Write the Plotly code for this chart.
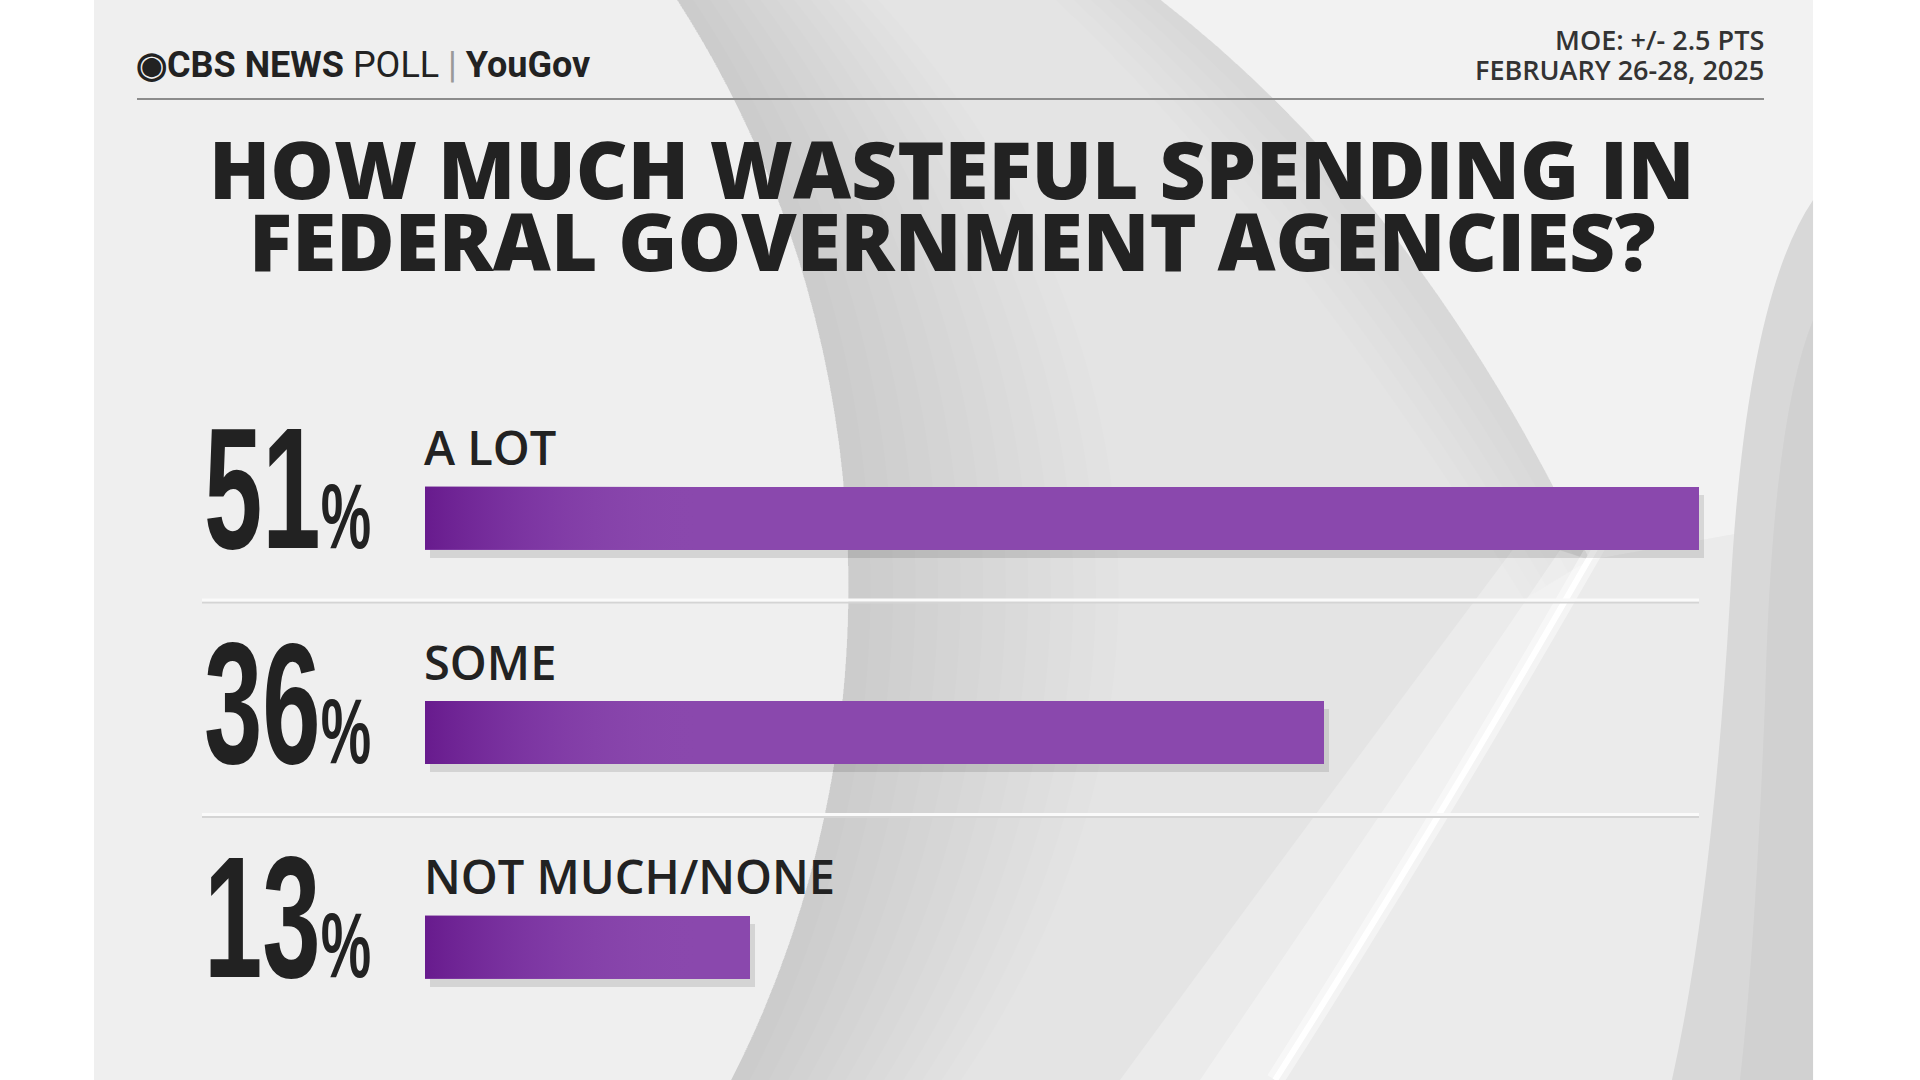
import plotly.graph_objects as go

# poll data
categories = ["A LOT", "SOME", "NOT MUCH/NONE"]
values = [51, 36, 13]
value_labels = ["51", "36", "13"]

title_lines = ["HOW MUCH WASTEFUL SPENDING IN", "FEDERAL GOVERNMENT AGENCIES?"]
moe_text = "MOE: +/- 2.5 PTS"
date_text = "FEBRUARY 26-28, 2025"

W, H = 1920, 1080
PURPLE = "#8a48ad"
INK = "#222222"
BAR_W = 0.294
GRAD_LEN = 11  # how far (in %) the dark left end of each bar fades out

positions = list(range(len(categories)))


def px(x):
    return x / W


def py(y):
    return 1 - y / H


def path(points, close=True):
    # points: ("M"|"L"|"Q"|"C", (x, y), ...) in pixel coords -> svg path in paper coords
    out = []
    for cmd, *pts in points:
        out.append(cmd + " ".join(f"{px(x):.4f},{py(y):.4f}" for x, y in pts))
    return " ".join(out) + (" Z" if close else "")


def bg(points, color):
    return dict(type="path", xref="paper", yref="paper", layer="below",
                path=path(points), fillcolor=color, line=dict(width=0))


fig = go.Figure()

# soft shadow under each bar (same data, axes nudged down/right)
fig.add_trace(go.Bar(
    x=values, y=positions, orientation="h", width=BAR_W,
    marker=dict(color="rgba(0,0,0,0.11)", line=dict(width=0)),
    xaxis="x", yaxis="y", hoverinfo="skip", showlegend=False,
))
fig.add_trace(go.Bar(
    x=values, y=positions, orientation="h", width=BAR_W,
    marker=dict(color=PURPLE, line=dict(width=0)),
    xaxis="x2", yaxis="y2", hoverinfo="skip", showlegend=False,
))
# darker left end of every bar
for p, v in zip(positions, values):
    end = min(v, GRAD_LEN)
    lo, hi = p - BAR_W / 2, p + BAR_W / 2
    fig.add_trace(go.Scatter(
        x=[0, end, end, 0, 0], y=[lo, lo, hi, hi, lo], mode="lines", fill="toself",
        line=dict(width=0, color="rgba(0,0,0,0)"),
        fillgradient=dict(type="horizontal",
                          colorscale=[[0, "rgba(100,22,138,0.9)"], [0.45, "rgba(115,40,155,0.45)"],
                                      [1, "rgba(138,72,173,0)"]]),
        xaxis="x2", yaxis="y2", hoverinfo="skip", showlegend=False,
    ))

# left edge of the big eye swoosh
edge = [("M", (677, 0)), ("C", (890, 330), (900, 750), (731, 1080))]
shapes = [
    # grey panel
    dict(type="rect", xref="paper", yref="paper", x0=px(94), x1=px(1813), y0=0, y1=1,
         fillcolor="#ececec", line=dict(width=0), layer="below"),
    # left part of the panel
    bg(edge + [("L", (94, 1080)), ("L", (94, 0))], "#efefef"),
    # inside of the swoosh
    bg(edge + [("L", (1275, 1080)), ("Q", (1440, 820), (1590, 560)),
               ("Q", (1420, 200), (1161, 0))], "#e4e4e4"),
]
# soft shading just inside the left edge (stacked thin layers fake a gradient)
for k in range(1, 13):
    shift = 24 * k
    shapes.append(bg(edge + [("L", (731 + shift * 0.8, 1080)),
                             ("C", (900 + shift, 750), (890 + shift, 330), (677 + shift * 0.7, 0))],
                     "rgba(0,0,0,0.006)"))
# soft shade along the right edge of the swoosh
for k in range(1, 7):
    shift = 22 * k
    shapes.append(bg([("M", (1161, 0)), ("Q", (1420, 200), (1590, 560)), ("L", (1590 - shift * 0.5, 560 + shift * 0.3)),
                      ("Q", (1420 - shift, 220), (1161 - shift * 0.8, 0))], "rgba(0,0,0,0.008)"))
shapes += [
    # lighter near the highlight arc
    bg([("M", (1120, 1080)), ("Q", (1340, 780), (1520, 540)), ("Q", (1560, 550), (1590, 560)),
        ("Q", (1440, 820), (1275, 1080))], "rgba(255,255,255,0.25)"),
    bg([("M", (1200, 1080)), ("Q", (1390, 800), (1560, 550)), ("Q", (1575, 555), (1590, 560)),
        ("Q", (1440, 820), (1275, 1080))], "rgba(255,255,255,0.3)"),
    # top right, lighter
    bg([("M", (1161, 0)), ("Q", (1420, 200), (1590, 560)), ("L", (1813, 520)), ("L", (1813, 0))],
       "#f2f2f2"),
    # bottom right
    bg([("M", (1275, 1080)), ("Q", (1440, 820), (1590, 560)), ("L", (1813, 520)), ("L", (1813, 1080))],
       "#ebebeb"),
    # darker band on the right edge
    bg([("M", (1813, 200)), ("Q", (1745, 300), (1730, 600)), ("Q", (1712, 900), (1672, 1080)),
        ("L", (1813, 1080))], "#d8d8d8"),
    bg([("M", (1813, 320)), ("Q", (1772, 420), (1765, 700)), ("Q", (1755, 950), (1740, 1080)),
        ("L", (1813, 1080))], "rgba(0,0,0,0.03)"),
    # white highlight arc
    dict(type="path", xref="paper", yref="paper", layer="below",
         path=path([("M", (1600, 540)), ("Q", (1440, 820), (1275, 1080))], close=False),
         line=dict(color="rgba(255,255,255,0.45)", width=18)),
    dict(type="path", xref="paper", yref="paper", layer="below",
         path=path([("M", (1600, 540)), ("Q", (1440, 820), (1275, 1080))], close=False),
         line=dict(color="#ffffff", width=6)),
    # header rule
    dict(type="line", xref="paper", yref="paper", x0=px(137), x1=px(1764),
         y0=py(99), y1=py(99), line=dict(color="#8c8c8c", width=2)),
]

# separators between the rows
for p in positions[:-1]:
    gap = p + 0.382
    shapes.append(dict(type="line", xref="paper", yref="y2", x0=px(202), x1=px(1699),
                       y0=gap + 0.012, y1=gap + 0.012, line=dict(color="#d4d4d4", width=2)))
    shapes.append(dict(type="line", xref="paper", yref="y2", x0=px(202), x1=px(1699),
                       y0=gap, y1=gap, line=dict(color="#fafafa", width=3)))

annotations = [
    # logo
    dict(xref="paper", yref="paper", x=px(134), y=py(65), xanchor="left", yanchor="middle",
         text="<b>◉CBS NEWS</b> POLL <span style='color:#999'>|</span> <b>YouGov</b>",
         showarrow=False, font=dict(family="Roboto, Liberation Sans, sans-serif", size=36, color=INK)),
    # moe / dates
    dict(xref="paper", yref="paper", x=px(1766), y=py(40), xanchor="right", yanchor="middle",
         text=moe_text, showarrow=False,
         font=dict(family="Open Sans, sans-serif", size=27, color="#333333", weight=600)),
    dict(xref="paper", yref="paper", x=px(1766), y=py(70), xanchor="right", yanchor="middle",
         text=date_text, showarrow=False,
         font=dict(family="Open Sans, sans-serif", size=27, color="#333333", weight=600)),
]
# title
for line, y in zip(title_lines, [167, 239]):
    annotations.append(dict(xref="paper", yref="paper", x=px(952), y=py(y), xanchor="center", yanchor="middle",
                            text=line, showarrow=False,
                            font=dict(family="Open Sans, sans-serif", size=80, color=INK, weight=800)))

for p, cat, val in zip(positions, categories, value_labels):
    # category label above its bar
    annotations.append(dict(xref="x2", yref="y2", x=0, y=p, xanchor="left", yanchor="middle",
                            yshift=71, xshift=-3, text=cat, showarrow=False,
                            font=dict(family="Open Sans, sans-serif", size=47, color=INK, weight=600)))
    # big percentage number
    annotations.append(dict(xref="paper", yref="y2", x=px(202), y=p, xanchor="left", yanchor="middle",
                            yshift=30, showarrow=False,
                            text=val + "<span style='font-size:93px'>%</span>",
                            font=dict(family="Liberation Sans, Arial, sans-serif",
                                      size=172, color=INK, weight=700)))

top, bottom = 410.75, 1054.25  # pixel rows of the category band
fig.update_layout(
    width=W, height=H,
    margin=dict(l=0, r=0, t=0, b=0),
    paper_bgcolor="#ffffff",
    plot_bgcolor="rgba(0,0,0,0)",
    bargap=0,
    barmode="overlay",
    shapes=shapes,
    annotations=annotations,
    xaxis=dict(domain=[px(425 + 5), px(1699 + 5)], range=[0, max(values)], visible=False),
    yaxis=dict(domain=[py(bottom + 8), py(top + 8)], range=[2.5, -0.5], visible=False, anchor="x"),
    xaxis2=dict(domain=[px(425), px(1699)], range=[0, max(values)], visible=False, anchor="y2"),
    yaxis2=dict(domain=[py(bottom), py(top)], range=[2.5, -0.5], visible=False, anchor="x2"),
)

# the numbers use a narrow face in the original; squeeze them horizontally
post_js = """
document.body.style.margin = '0';
var gd = document.getElementById('{plot_id}');
function squeeze() {
  gd.querySelectorAll('.annotation-text').forEach(function (t) {
    if (/^[0-9]+%$/.test(t.textContent)) {
      t.style.transformBox = 'fill-box';
      t.style.transformOrigin = 'left bottom';
      t.style.transform = 'scaleX(0.61)';
    }
  });
}
squeeze();
gd.on('plotly_afterplot', squeeze);
"""

fig.write_html("out.html", post_script=post_js, config={"displayModeBar": False})
